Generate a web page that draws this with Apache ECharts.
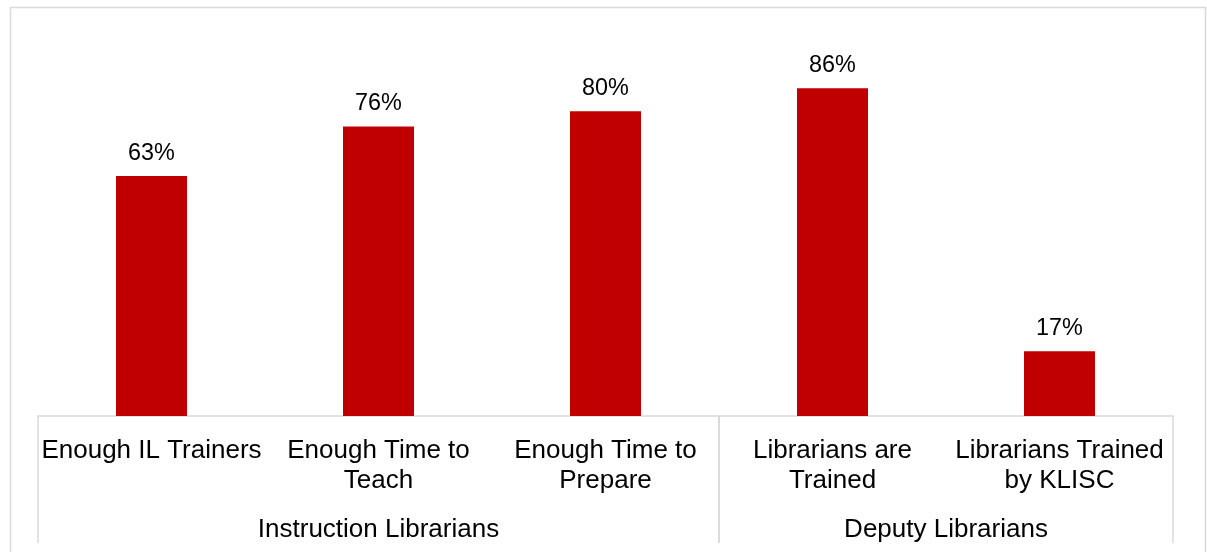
<!DOCTYPE html>
<html>
<head>
<meta charset="utf-8">
<script src="https://cdn.jsdelivr.net/npm/echarts@6/dist/echarts.min.js"></script>
<style>
  html, body { margin: 0; padding: 0; background: #fff; }
  #chart { width: 1207px; height: 552px; }
</style>
</head>
<body>
<div id="chart"></div>
<script>
// Survey results (percent answering yes)
const categories = [
  'Enough IL Trainers',
  'Enough Time to\nTeach',
  'Enough Time to\nPrepare',
  'Librarians are\nTrained',
  'Librarians Trained\nby KLISC'
];
const values = [63, 76, 80, 86, 17];

// Outer axis level: group name and the first/last category index it covers
const groupNames = ['Instruction Librarians', 'Deputy Librarians'];
const groupRanges = [[0, 2], [3, 4]];

const FONT = '"Liberation Sans", Arial, sans-serif';
const GRID_LINE = '#d9d9d9';

const chart = echarts.init(document.getElementById('chart'));

chart.setOption({
  animation: false,
  backgroundColor: '#fff',
  graphic: [{
    type: 'rect',
    left: 8, top: 5,
    shape: { width: 1195, height: 600 },
    style: { fill: 'none', stroke: GRID_LINE, lineWidth: 1.5 },
    silent: true,
    z: -10
  }],
  grid: { left: 38, right: 34, top: 35, bottom: 136 },
  xAxis: {
    type: 'category',
    data: categories,
    axisLine: { show: true, lineStyle: { color: GRID_LINE, width: 1.5 } },
    axisTick: { show: false },
    axisLabel: {
      interval: 0,
      margin: 20,
      color: '#000',
      fontFamily: FONT,
      fontSize: 26,
      lineHeight: 30,
      align: 'center'
    }
  },
  yAxis: {
    type: 'value',
    min: 0,
    max: 100,
    show: false
  },
  series: [
    {
      type: 'bar',
      data: values,
      barWidth: 71,
      itemStyle: { color: '#C00000' },
      label: {
        show: true,
        position: 'top',
        distance: 11,
        formatter: '{c}%',
        color: '#000',
        fontFamily: FONT,
        fontSize: 23.4
      }
    },
    {
      // Second axis level: group labels and separators between groups
      type: 'custom',
      silent: true,
      clip: false,
      encode: { x: 0, y: 1 },
      data: groupRanges,
      renderItem: function (params, api) {
        const s = api.value(0);
        const e = api.value(1);
        const band = api.size([1, 0])[0];
        const p0 = api.coord([s, 0]);
        const p1 = api.coord([e, 0]);
        const left = p0[0] - band / 2;
        const right = p1[0] + band / 2;
        const base = p0[1];
        const lineStyle = { stroke: GRID_LINE, lineWidth: 1.5 };
        return {
          type: 'group',
          children: [
            { type: 'line', shape: { x1: left, y1: base, x2: left, y2: base + 127 }, style: lineStyle },
            { type: 'line', shape: { x1: right, y1: base, x2: right, y2: base + 127 }, style: lineStyle },
            {
              type: 'text',
              style: {
                x: (left + right) / 2,
                y: base + 114,
                text: groupNames[params.dataIndex],
                align: 'center',
                verticalAlign: 'middle',
                fill: '#000',
                fontFamily: FONT,
                fontSize: 26
              }
            }
          ]
        };
      }
    }
  ]
});
</script>
</body>
</html>
